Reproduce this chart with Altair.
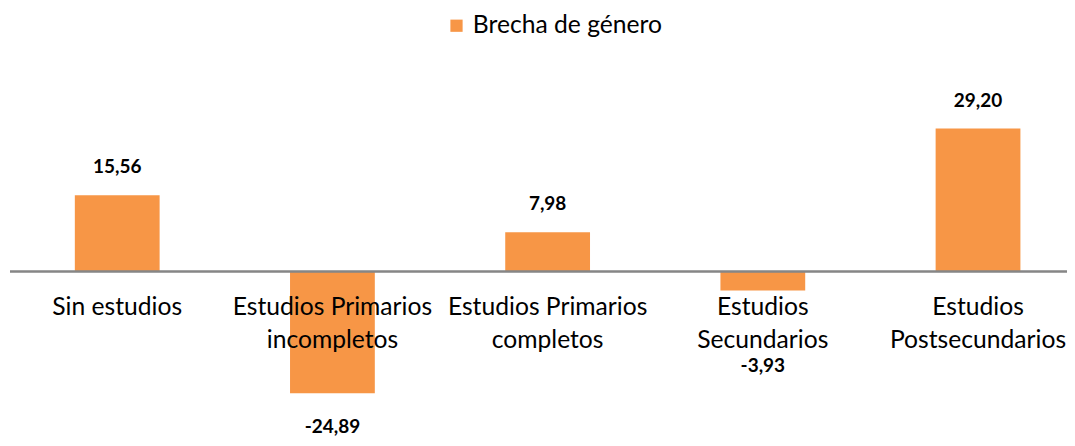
import altair as alt
import pandas as pd

categories = [
    "Sin estudios",
    "Estudios Primarios incompletos",
    "Estudios Primarios completos",
    "Estudios Secundarios",
    "Estudios Postsecundarios",
]
category_lines = [
    "Sin estudios",
    "Estudios Primarios\nincompletos",
    "Estudios Primarios\ncompletos",
    "Estudios\nSecundarios",
    "Estudios\nPostsecundarios",
]
values = [15.56, -24.89, 7.98, -3.93, 29.20]
value_labels = ["15,56", "-24,89", "7,98", "-3,93", "29,20"]
series_name = "Brecha de género"

df = pd.DataFrame({
    "category": categories,
    "cat_label": category_lines,
    "value": values,
    "val_label": value_labels,
    "series": [series_name] * len(categories),
})

W = 1060
H = 378
FONT = "Lato"

x_enc = alt.X(
    "category:N", sort=categories, axis=None,
    scale=alt.Scale(paddingInner=0.606, paddingOuter=0.2612, align=0.5856),
)
y_scale = alt.Scale(domain=[-33.98, 43.16], nice=False, zero=False)

base = alt.Chart(df)

bars = base.mark_bar().encode(
    x=x_enc,
    y=alt.Y("value:Q", axis=None, scale=y_scale),
    y2=alt.datum(0),
    color=alt.Color(
        "series:N",
        scale=alt.Scale(range=["#F79646"]),
        legend=alt.Legend(
            title=None, orient="none", legendX=436, legendY=-47,
            symbolType="square", symbolSize=150, symbolStrokeWidth=0,
            labelFont=FONT, labelFontSize=24.7, labelColor="#000000",
            labelOffset=4, padding=0, labelLimit=400,
        ),
    ),
)

zero_rule = base.mark_rule(color="#868686", strokeWidth=1.5).encode(
    y=alt.datum(0), x=alt.value(1), x2=alt.value(W)
)

cat_text = base.mark_text(
    baseline="top", dy=24, fontSize=24.7, font=FONT, lineBreak="\n",
    lineHeight=33, color="#000000",
).encode(x=x_enc, y=alt.Y(datum=0, scale=y_scale), text="cat_label:N")

pos_text = base.transform_filter("datum.value > 0").mark_text(
    baseline="middle", dy=-28, fontSize=19, fontWeight="bold", font=FONT, color="#000000"
).encode(x=x_enc, y=alt.Y("value:Q", scale=y_scale), text="val_label:N")

neg_text = base.transform_filter("datum.value < 0").transform_calculate(
    label_y="min(datum.value, -12.5)"
).mark_text(
    baseline="middle", dy=34, fontSize=19, fontWeight="bold", font=FONT, color="#000000"
).encode(x=x_enc, y=alt.Y("label_y:Q", scale=y_scale), text="val_label:N")

chart = alt.layer(bars, zero_rule, cat_text, pos_text, neg_text).properties(
    width=W, height=H,
    autosize=alt.AutoSizeParams(type="none"),
    padding={"left": 1, "top": 52, "right": 0, "bottom": 0},
).configure_view(stroke=None)

chart.save("out.html", embed_options={"renderer": "svg", "actions": False})
